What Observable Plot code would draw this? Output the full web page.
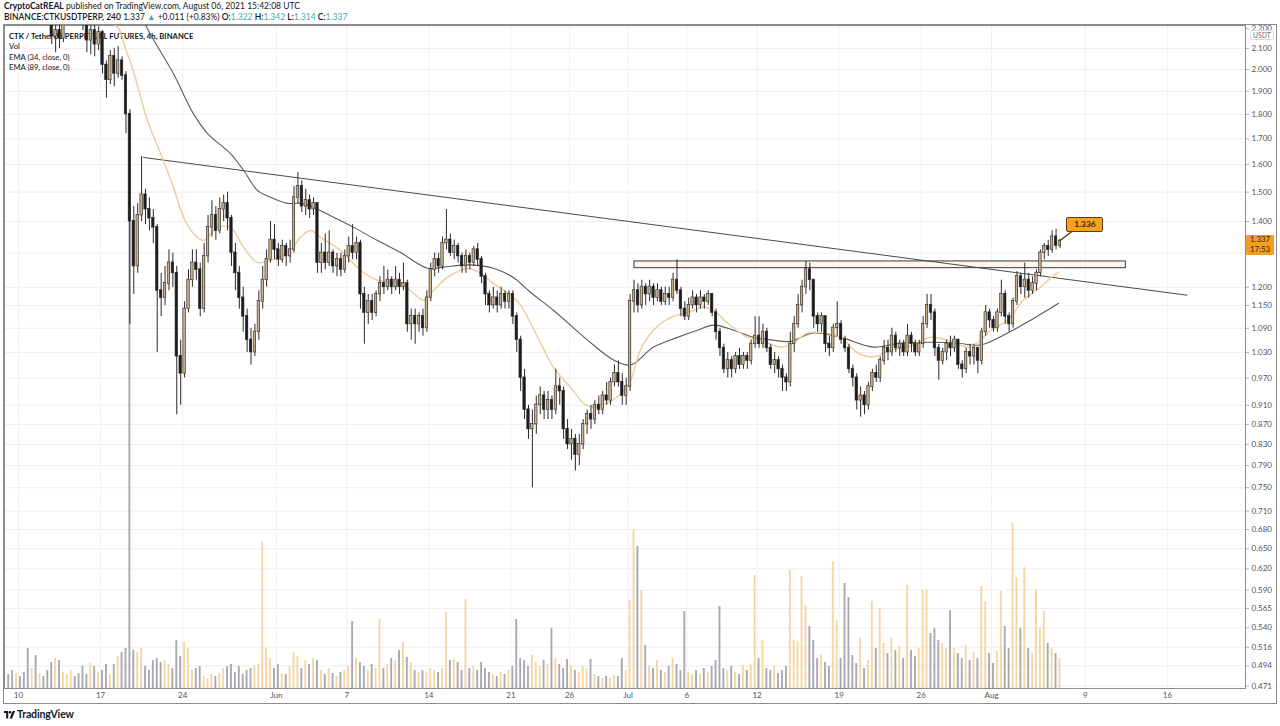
<!DOCTYPE html>
<html><head><meta charset="utf-8">
<script src="https://cdn.jsdelivr.net/npm/d3@7"></script>
<script src="https://cdn.jsdelivr.net/npm/@observablehq/plot@0.6"></script>
<style>
body{margin:0;background:#fff;font-family:Lato,"Noto Sans",sans-serif;}
#wrap{position:relative;width:1280px;height:726px;overflow:hidden;background:#fff;}
#wrap > *{position:absolute;left:0;top:0;}
#hdr{left:4px;top:1px;font-size:8.5px;line-height:11px;color:#131722;white-space:nowrap;}
#hdr .g{color:#3fae9f;}
#hdr .s{font-weight:600;}
#legend{left:9px;top:31px;font-size:7.7px;line-height:10.3px;color:#131722;white-space:nowrap;}
#outer{left:3px;top:24px;width:1274px;height:680px;border:1px solid #8c8c8c;box-sizing:border-box;}
#usdt{left:1250px;top:30px;font-size:6.8px;line-height:8px;padding:0 2px;color:#6a6d78;border:1px solid #d8d9de;border-radius:3px;background:#fff;}
#plabel{left:1246px;width:28px;font-size:7.8px;line-height:9.5px;padding-bottom:1px;color:#3b2600;background:#f59d1f;text-align:center;border-radius:1px;}
#ann{font-size:8.4px;font-weight:700;line-height:13px;color:#3b2600;background:#f7a21b;border:1px solid #5a3d10;border-radius:2px;text-align:center;}
#foot{left:4px;top:708px;font-size:10.5px;font-weight:700;color:#131722;white-space:nowrap;letter-spacing:-0.1px;}
</style></head><body><div id="wrap">
<div id="hdr"><div><b>CryptoCatREAL</b> published on TradingView.com, August 06, 2021 15:42:08 UTC</div>
<div><span class="s">BINANCE:CTKUSDTPERP, 240</span> 1.337 <span class="g">▲</span> +0.011 (+0.83%) <span class="s">O:</span><span class="g">1.322</span> <span class="s">H:</span><span class="g">1.342</span> <span class="s">L:</span><span class="g">1.314</span> <span class="s">C:</span><span class="g">1.337</span></div></div>
</div>
<script>
// ---------- data ----------
const firstOpen = 2.45;                 // open of first 8h candle
const candleStart = "2021-05-09T00:00Z"; // first candle open time
const candleHours = 8;
const closes = [
2.42,2.38,2.45,2.40,2.36,2.31,2.34,2.29,2.33,2.27,
2.24,2.16,2.19,2.15,2.26,2.30,2.34,2.29,2.27,2.24,
2.14,2.19,2.12,2.18,2.02,1.95,2.06,1.98,2.04,1.97,
1.80,1.40,1.26,1.42,1.49,1.44,1.41,1.38,1.19,1.17,
1.21,1.27,1.24,1.02,0.98,1.14,1.22,1.27,1.25,1.14,
1.29,1.38,1.42,1.37,1.44,1.46,1.41,1.30,1.24,1.17,
1.12,1.06,1.03,1.08,1.16,1.22,1.28,1.34,1.31,1.28,
1.32,1.29,1.31,1.48,1.52,1.45,1.47,1.44,1.46,1.27,
1.30,1.27,1.30,1.26,1.28,1.25,1.29,1.32,1.30,1.33,
1.18,1.13,1.16,1.13,1.18,1.21,1.20,1.22,1.20,1.22,
1.20,1.21,1.10,1.12,1.10,1.12,1.09,1.17,1.25,1.28,
1.26,1.33,1.34,1.30,1.32,1.29,1.26,1.29,1.27,1.31,
1.28,1.23,1.18,1.15,1.17,1.15,1.18,1.16,1.18,1.12,
1.06,0.97,0.90,0.86,0.87,0.91,0.93,0.90,0.92,0.90,
0.95,0.94,0.86,0.83,0.84,0.81,0.83,0.87,0.89,0.88,
0.91,0.90,0.93,0.92,0.96,0.98,0.96,0.93,0.95,1.16,
1.19,1.15,1.20,1.18,1.20,1.17,1.19,1.16,1.18,1.17,
1.22,1.19,1.14,1.12,1.15,1.17,1.15,1.17,1.16,1.18,
1.13,1.08,1.04,0.99,1.01,0.99,1.02,1.00,1.02,1.01,
1.05,1.07,1.05,1.08,1.04,1.00,1.01,0.99,0.97,0.96,
1.05,1.10,1.15,1.20,1.25,1.22,1.12,1.10,1.12,1.05,
1.04,1.09,1.10,1.06,1.04,0.99,0.97,0.92,0.93,0.91,
0.95,0.98,0.97,1.01,1.04,1.03,1.07,1.04,1.05,1.03,
1.07,1.05,1.03,1.05,1.10,1.15,1.13,1.04,1.01,1.03,
1.05,1.04,1.06,1.00,0.99,1.03,1.02,1.04,1.01,1.08,
1.13,1.11,1.09,1.13,1.18,1.12,1.10,1.16,1.23,1.20,
1.22,1.19,1.21,1.24,1.30,1.32,1.31,1.35,1.322,1.337];
const highs = [
2.50,2.46,2.52,2.47,2.43,2.39,2.38,2.36,2.37,2.35,
2.30,2.28,2.23,2.24,2.31,2.36,2.38,2.36,2.32,2.30,
2.25,2.23,2.22,2.21,2.19,2.04,2.09,2.10,2.11,2.06,
1.99,1.82,1.45,1.46,1.63,1.51,1.48,1.44,1.39,1.24,
1.26,1.31,1.30,1.26,1.06,1.16,1.25,1.31,1.31,1.27,
1.33,1.42,1.47,1.45,1.48,1.49,1.50,1.42,1.33,1.26,
1.20,1.14,1.09,1.10,1.19,1.26,1.31,1.40,1.39,1.33,
1.34,1.33,1.34,1.52,1.57,1.54,1.51,1.49,1.48,1.46,
1.33,1.36,1.37,1.31,1.30,1.30,1.31,1.35,1.39,1.35,
1.34,1.20,1.18,1.18,1.19,1.23,1.26,1.25,1.23,1.26,
1.24,1.27,1.22,1.14,1.14,1.13,1.14,1.19,1.27,1.30,
1.30,1.35,1.44,1.36,1.34,1.33,1.30,1.31,1.30,1.32,
1.33,1.29,1.24,1.19,1.20,1.19,1.20,1.19,1.19,1.19,
1.13,1.07,0.99,0.91,0.90,0.93,0.95,0.94,0.94,0.93,
0.99,0.97,0.95,0.88,0.86,0.85,0.85,0.88,0.90,0.91,
0.92,0.93,0.94,0.96,0.97,1.00,1.01,0.98,0.97,1.18,
1.22,1.21,1.22,1.21,1.22,1.21,1.21,1.20,1.20,1.20,
1.24,1.28,1.20,1.16,1.17,1.19,1.18,1.19,1.18,1.19,
1.18,1.14,1.09,1.05,1.03,1.02,1.03,1.04,1.03,1.03,
1.06,1.12,1.12,1.10,1.09,1.05,1.03,1.02,1.00,0.98,
1.08,1.12,1.18,1.22,1.275,1.27,1.22,1.13,1.13,1.12,
1.07,1.10,1.16,1.11,1.07,1.05,1.00,0.98,0.95,0.94,
0.96,0.99,1.00,1.02,1.06,1.06,1.09,1.08,1.06,1.06,
1.10,1.08,1.06,1.06,1.12,1.18,1.18,1.14,1.05,1.04,
1.06,1.07,1.07,1.06,1.01,1.04,1.05,1.05,1.04,1.09,
1.15,1.14,1.12,1.14,1.22,1.19,1.13,1.17,1.245,1.24,
1.27,1.24,1.23,1.25,1.31,1.33,1.34,1.37,1.375,1.342];
const lows = [
2.36,2.33,2.36,2.34,2.30,2.27,2.28,2.25,2.26,2.24,
2.23,2.12,2.08,2.10,2.13,2.24,2.27,2.25,2.23,2.19,
2.08,2.07,2.06,2.09,1.98,1.87,1.93,1.92,1.96,1.95,
1.72,1.10,1.18,1.24,1.40,1.39,1.37,1.33,1.03,1.12,
1.15,1.19,1.20,0.89,0.91,0.97,1.13,1.20,1.22,1.12,
1.13,1.27,1.35,1.34,1.36,1.40,1.37,1.26,1.19,1.14,
1.08,1.03,1.00,1.02,1.06,1.14,1.20,1.27,1.28,1.26,
1.27,1.26,1.27,1.30,1.46,1.43,1.42,1.41,1.42,1.24,
1.24,1.25,1.26,1.24,1.23,1.23,1.24,1.27,1.28,1.28,
1.14,1.05,1.10,1.11,1.12,1.16,1.18,1.19,1.18,1.19,
1.18,1.19,1.08,1.06,1.05,1.08,1.07,1.08,1.16,1.23,
1.24,1.25,1.31,1.29,1.28,1.27,1.24,1.24,1.25,1.26,
1.26,1.21,1.15,1.13,1.14,1.13,1.14,1.14,1.14,1.10,
1.03,0.94,0.88,0.84,0.75,0.85,0.89,0.88,0.88,0.88,
0.89,0.91,0.84,0.82,0.80,0.78,0.79,0.82,0.85,0.86,
0.87,0.89,0.89,0.91,0.91,0.95,0.95,0.91,0.91,0.94,
1.13,1.13,1.14,1.15,1.16,1.15,1.16,1.15,1.15,1.15,
1.16,1.18,1.12,1.11,1.11,1.14,1.13,1.14,1.14,1.15,
1.12,1.06,1.02,0.98,0.97,0.97,0.98,0.99,0.99,0.99,
1.00,1.04,1.04,1.04,1.03,0.99,0.98,0.97,0.94,0.94,
0.95,1.03,1.09,1.13,1.18,1.19,1.09,1.08,1.08,1.03,
1.02,1.03,1.07,1.05,1.03,0.98,0.95,0.90,0.885,0.89,
0.90,0.94,0.96,0.96,1.00,1.01,1.02,1.03,1.02,1.02,
1.02,1.03,1.02,1.02,1.04,1.09,1.11,1.02,0.965,1.00,
1.01,1.02,1.03,0.99,0.97,0.98,1.00,1.00,0.98,1.00,
1.07,1.09,1.08,1.08,1.12,1.10,1.08,1.09,1.15,1.18,
1.17,1.17,1.18,1.19,1.23,1.28,1.29,1.30,1.31,1.314];
// volume per candle (x10k CTK)
const volumes = [
14,18,15,12,16,40,20,33,15,12,
18,26,30,28,16,14,18,12,15,22,
14,25,22,16,18,24,14,24,32,36,
40,488,38,36,40,22,18,28,30,26,
28,24,20,48,32,46,40,18,20,22,
12,10,14,12,15,20,22,24,16,22,
14,18,20,22,24,146,40,30,20,24,
15,14,22,36,32,20,28,24,30,28,
18,14,20,15,12,16,18,22,67,30,
26,22,18,24,20,69,20,24,30,28,
38,46,31,26,18,16,18,16,20,18,
16,20,76,28,29,26,18,89,20,22,
18,26,20,16,14,12,16,14,18,22,
69,30,28,22,33,26,22,28,24,60,
30,24,20,29,22,18,16,22,20,29,
14,12,10,12,10,13,12,30,18,88,
158,142,98,43,23,20,28,18,16,22,
30,24,18,77,16,14,18,14,20,16,
22,28,82,20,18,22,16,14,23,18,
24,113,30,48,20,18,23,15,18,22,
118,48,47,112,83,62,48,30,33,26,
22,127,68,30,105,91,33,25,50,20,
28,87,40,80,45,35,50,38,42,30,
103,38,32,40,98,99,55,60,48,45,
40,78,40,35,30,43,28,36,30,102,
87,35,25,37,97,62,40,165,111,60,
121,40,35,99,60,77,45,40,35,30];
// EMA 34
const ema34Dates = ["2021-05-17T00","2021-05-18T13","2021-05-19T03","2021-05-19T19","2021-05-21T00","2021-05-22T03","2021-05-23T05","2021-05-24T02","2021-05-24T22","2021-05-25T19","2021-05-26T23","2021-05-28T02","2021-05-29T05","2021-05-30T09","2021-05-31T12","2021-06-02T05","2021-06-03T01","2021-06-03T22","2021-06-04T18","2021-06-06T11","2021-06-08T04","2021-06-09T15","2021-06-11T14","2021-06-12T17","2021-06-13T13","2021-06-14T10","2021-06-15T14","2021-06-17T07","2021-06-18T10","2021-06-19T12","2021-06-21T05","2021-06-21T20","2021-06-23T07","2021-06-24T15","2021-06-26T02","2021-06-27T13","2021-06-28T22","2021-06-30T08","2021-07-01T05","2021-07-02T01","2021-07-03T04","2021-07-04T15","2021-07-06T02","2021-07-07T10","2021-07-08T07","2021-07-09T11","2021-07-11T04","2021-07-12T07","2021-07-14T00","2021-07-15T02","2021-07-16T07","2021-07-17T16","2021-07-19T03","2021-07-20T14","2021-07-21T22","2021-07-23T09","2021-07-24T20","2021-07-26T19","2021-07-28T06","2021-07-29T23","2021-07-30T19","2021-07-31T22","2021-08-02T09","2021-08-03T17","2021-08-05T04","2021-08-06T07","2021-08-06T17"];
const ema34Values = [2.27,2.20,2.10,1.994,1.774,1.642,1.517,1.414,1.362,1.339,1.381,1.381,1.318,1.272,1.278,1.309,1.349,1.371,1.349,1.309,1.249,1.220,1.211,1.183,1.164,1.192,1.228,1.254,1.240,1.211,1.172,1.150,1.067,0.995,0.949,0.908,0.912,0.934,0.965,1.036,1.085,1.118,1.131,1.145,1.137,1.104,1.067,1.060,1.043,1.053,1.078,1.078,1.067,1.029,1.019,1.036,1.043,1.067,1.060,1.043,1.053,1.085,1.111,1.164,1.200,1.234,1.243];
// EMA 89
const ema89Dates = ["2021-05-20T10","2021-05-21T00","2021-05-23T05","2021-05-24T22","2021-05-26T03","2021-05-28T02","2021-05-29T05","2021-05-30T09","2021-05-31T12","2021-06-01T23","2021-06-03T01","2021-06-04T04","2021-06-05T21","2021-06-07T14","2021-06-09T15","2021-06-11T14","2021-06-13T21","2021-06-15T06","2021-06-16T17","2021-06-17T19","2021-06-19T12","2021-06-21T05","2021-06-22T16","2021-06-24T15","2021-06-27T13","2021-06-29T18","2021-07-01T05","2021-07-03T04","2021-07-05T05","2021-07-06T22","2021-07-08T07","2021-07-10T00","2021-07-11T17","2021-07-13T10","2021-07-14T20","2021-07-16T19","2021-07-19T03","2021-07-21T22","2021-07-24T06","2021-07-27T01","2021-07-29T02","2021-07-31T01","2021-08-02T09","2021-08-04T08","2021-08-05T18","2021-08-06T17"];
const ema89Values = [2.285,2.20,1.981,1.803,1.721,1.642,1.578,1.506,1.482,1.461,1.461,1.447,1.414,1.381,1.339,1.302,1.255,1.258,1.264,1.264,1.255,1.228,1.186,1.137,1.060,1.012,1.000,1.043,1.067,1.085,1.098,1.085,1.067,1.060,1.057,1.078,1.067,1.043,1.053,1.055,1.053,1.048,1.078,1.111,1.137,1.156];
// drawings
const trendDates = ["2021-05-20T16","2021-08-17T16"];
const trendPrices = [1.627, 1.178];
const zoneDates = ["2021-07-01T13","2021-08-12T11"];
const zonePrices = [1.255, 1.275];
const calloutPrice = 1.336;
const lastPrice = 1.337, countdown = "17:53";
// axes
const yTicks = [2.2,2.1,2.0,1.9,1.8,1.7,1.6,1.5,1.4,1.3,1.2,1.15,1.09,1.03,0.97,0.91,0.87,0.83,0.79,0.75,0.71,0.68,0.65,0.62,0.59,0.565,0.54,0.516,0.494,0.471];
const yTickHiddenByTag = 1.3; // label covered by the last-price tag
const xTickDates = ["2021-05-10","2021-05-17","2021-05-24","2021-06-01","2021-06-07","2021-06-14","2021-06-21","2021-06-26","2021-07-01","2021-07-06","2021-07-12","2021-07-19","2021-07-26","2021-08-01","2021-08-09","2021-08-16"];
const xDomain = ["2021-05-08T19:20Z","2021-08-22T15:50Z"];
const yDomain = [0.4684, 2.217];
const volDomain = [0, 663];

// ---------- build ----------
const H = 3600e3;
const utc = s => new Date(s.endsWith("Z") ? s : (s.length===13 ? s+":00Z" : s+"T00:00Z"));
const t0 = utc(candleStart).getTime();
const candles = closes.map((c,i)=>{
  const o = i ? closes[i-1] : firstOpen;
  const t = t0 + (i*candleHours + candleHours/2)*H;
  return {t:new Date(t), b1:new Date(t-2.5*H), b2:new Date(t+2.5*H), v1:new Date(t-1.9*H), v2:new Date(t+1.9*H),
          o, c, h:highs[i], l:lows[i], v:volumes[i], up:c>=o};
});
const ema34 = ema34Dates.map((d,i)=>({t:utc(d), p:ema34Values[i]}));
const ema89 = ema89Dates.map((d,i)=>({t:utc(d), p:ema89Values[i]}));
const trend = trendDates.map((d,i)=>({t:utc(d), p:trendPrices[i]}));
const zone = [{t1:utc(zoneDates[0]), t2:utc(zoneDates[1]), p1:zonePrices[0], p2:zonePrices[1]}];
const xTicks = xTickDates.map(utc);
const fmtX = d => d.getUTCDate()===1 ? d3.utcFormat("%b")(d) : String(d.getUTCDate());

const FONT = "Lato, 'Noto Sans', sans-serif";
const base = {
  width:1280, height:726, marginTop:25, marginBottom:38, marginLeft:4, marginRight:35,
  style:{background:"transparent", fontFamily:FONT, fontSize:"8px", color:"#50535e", overflow:"visible"}
};
const wrap = document.getElementById("wrap");

// background: grid, axes, pane frame
const bg = Plot.plot({...base,
  x:{type:"utc", domain:xDomain.map(utc)},
  y:{type:"log", domain:yDomain},
  marks:[
    Plot.gridY(yTicks.slice(1), {stroke:"#eceef2", strokeOpacity:1}),
    Plot.gridX(xTicks, {stroke:"#eff1f5", strokeOpacity:1}),
    Plot.axisY(yTicks.filter(v=>v!==yTickHiddenByTag), {anchor:"right", tickSize:3, tickPadding:3, tickFormat:d3.format(".3f"), stroke:"#b0b3bb", fill:"#50535e"}),
    Plot.axisX(xTicks, {anchor:"bottom", tickSize:0, tickPadding:4, tickFormat:fmtX, fill:"#50535e"}),
    Plot.frame({stroke:"#8c8c8c"})
  ]});
wrap.appendChild(bg);

// legend (under the candles)
const leg = document.createElement("div");
leg.id = "legend";
leg.innerHTML = "<b>CTK / TetherUS PERPETUAL FUTURES, 4h, BINANCE</b><br>Vol<br>EMA (34, close, 0)<br>EMA (89, close, 0)";
wrap.appendChild(leg);

// volume pane
const vol = Plot.plot({...base,
  x:{type:"utc", domain:xDomain.map(utc), axis:null},
  y:{domain:volDomain, axis:null},
  color:{type:"identity"},
  marks:[
    Plot.rect(candles, {x1:"v1", x2:"v2", y1:0, y2:"v", fill:d=>d.up?"#f5d6a3":"#a7a9b0", clip:true})
  ]});
wrap.appendChild(vol);

// price pane
const fg = Plot.plot({...base,
  x:{type:"utc", domain:xDomain.map(utc), axis:null},
  y:{type:"log", domain:yDomain, axis:null},
  color:{type:"identity"},
  marks:[
    Plot.rect(zone, {x1:"t1", x2:"t2", y1:"p1", y2:"p2", fill:"#fdf5e7", fillOpacity:0.85, stroke:"#3a3a3a", strokeWidth:1}),
    Plot.line(trend, {x:"t", y:"p", stroke:"#4a4a4a", strokeWidth:1, clip:true}),
    Plot.line(ema89, {x:"t", y:"p", stroke:"#5b5b5b", strokeWidth:1.1, curve:"catmull-rom", clip:true}),
    Plot.line(ema34, {x:"t", y:"p", stroke:"#f0cb98", strokeWidth:1.4, curve:"catmull-rom", clip:true}),
    Plot.ruleX(candles, {x:"t", y1:"l", y2:"h", stroke:"#2b2b2b", strokeWidth:1, clip:true}),
    Plot.rect(candles, {x1:"b1", x2:"b2", y1:d=>Math.min(d.o,d.c), y2:d=>Math.max(d.o,d.c)*1.0015,
      fill:d=>d.up?"#c9ad84":"#1d1d1d", stroke:"#262626", strokeWidth:0.6, clip:true})
  ]});
wrap.appendChild(fg);

const sx = fg.scale("x"), sy = fg.scale("y");

// outer frame
const outer = document.createElement("div"); outer.id = "outer"; wrap.appendChild(outer);

// currency tag
const usdt = document.createElement("div"); usdt.id = "usdt"; usdt.textContent = "USDT"; wrap.appendChild(usdt);

// last price tag
const pl = document.createElement("div"); pl.id = "plabel";
pl.innerHTML = d3.format(".3f")(lastPrice) + "<br>" + countdown;
pl.style.top = (sy.apply(lastPrice) - 5.5) + "px";
wrap.appendChild(pl);

// callout
const last = candles[candles.length-1];
const ax = sx.apply(last.t), ay = sy.apply(calloutPrice);
const conn = document.createElementNS("http://www.w3.org/2000/svg","svg");
conn.setAttribute("width","1280"); conn.setAttribute("height","726");
conn.innerHTML = `<line x1="${ax}" y1="${ay}" x2="${ax+13}" y2="${ay-10}" stroke="#5a3d10" stroke-width="1.5"/>`;
wrap.appendChild(conn);
const ann = document.createElement("div"); ann.id = "ann";
ann.textContent = d3.format(".3f")(calloutPrice);
ann.style.left = (ax+7) + "px"; ann.style.top = (ay-24) + "px"; ann.style.width = "35px";
wrap.appendChild(ann);

// footer
const foot = document.createElement("div"); foot.id = "foot";
foot.innerHTML = '<svg width="11" height="8" viewBox="0 0 11 8" style="vertical-align:-0.5px;margin-right:2px"><path d="M0 0h4.2v7.6H2.2V2H0z" fill="#131722"/><circle cx="6" cy="1.3" r="1.3" fill="#131722"/><path d="M8.6 0H11L8 7.6H5.6z" fill="#131722"/></svg>TradingView';
wrap.appendChild(foot);
</script></body></html>
